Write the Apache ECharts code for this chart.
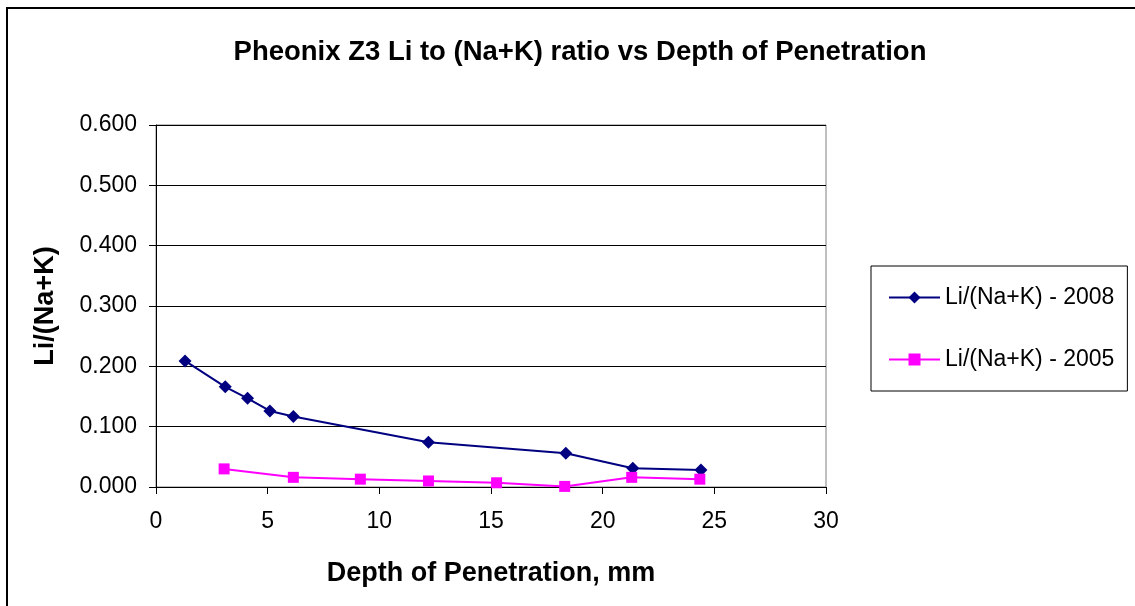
<!DOCTYPE html>
<html>
<head>
<meta charset="utf-8">
<script src="https://cdn.jsdelivr.net/npm/echarts@6/dist/echarts.min.js"></script>
<style>
html,body{margin:0;padding:0;background:#fff;}
#chart{width:1135px;height:606px;}
</style>
</head>
<body>
<div id="chart"></div>
<script>
var titleText = 'Pheonix Z3 Li to (Na+K) ratio vs Depth of Penetration';
var xAxisName = 'Depth of Penetration, mm';
var yAxisName = 'Li/(Na+K)';
var seriesNames = ['Li/(Na+K) - 2008', 'Li/(Na+K) - 2005'];

var depth2008 = [1.3, 3.1, 4.1, 5.1, 6.15, 12.2, 18.35, 21.35, 24.4];
var ratio2008 = [0.209, 0.166, 0.147, 0.126, 0.117, 0.074, 0.056, 0.031, 0.028];

var depth2005 = [3.05, 6.15, 9.15, 12.2, 15.25, 18.3, 21.3, 24.35];
var ratio2005 = [0.030, 0.016, 0.013, 0.010, 0.007, 0.001, 0.016, 0.013];

function pairs(xs, ys) { return xs.map(function (x, i) { return [x, ys[i]]; }); }

var FONT = '"Liberation Sans", Arial, sans-serif';
var chart = echarts.init(document.getElementById('chart'), null, {renderer: 'canvas'});
chart.setOption({
  backgroundColor: '#fff',
  animation: false,
  title: {
    text: titleText,
    left: 575, top: 33, textAlign: 'center',
    textStyle: {fontFamily: FONT, fontWeight: 'bold', fontSize: 27.5, color: '#000'}
  },
  graphic: [{
    type: 'rect', shape: {x: 7, y: 8, width: 1140, height: 610},
    style: {fill: 'none', stroke: '#000', lineWidth: 2}, silent: true
  }],
  legend: {
    orient: 'vertical', left: 871, top: 266,
    padding: [20, 13, 20, 17],
    borderColor: '#000', borderWidth: 1,
    itemWidth: 51, itemHeight: 15, itemGap: 39,
    textStyle: {fontFamily: FONT, fontSize: 23, color: '#000'},
    data: seriesNames
  },
  grid: {
    left: 156, right: 309, top: 125, bottom: 119,
    show: true, borderColor: '#808080', borderWidth: 1
  },
  xAxis: {
    type: 'value', min: 0, max: 30, interval: 5,
    name: xAxisName, nameLocation: 'middle', nameGap: 73,
    nameTextStyle: {fontFamily: FONT, fontWeight: 'bold', fontSize: 27, color: '#000'},
    axisLine: {show: true, onZero: false, lineStyle: {color: '#000', width: 1}},
    axisTick: {show: true, inside: false, length: 7, lineStyle: {color: '#000'}},
    axisLabel: {fontFamily: FONT, fontSize: 23, color: '#000', margin: 23},
    splitLine: {show: false}
  },
  yAxis: {
    type: 'value', min: 0, max: 0.6, interval: 0.1,
    name: yAxisName, nameLocation: 'middle', nameGap: 97,
    nameTextStyle: {fontFamily: FONT, fontWeight: 'bold', fontSize: 27, color: '#000'},
    axisLine: {show: true, lineStyle: {color: '#000', width: 1}},
    axisTick: {show: true, inside: false, length: 7, lineStyle: {color: '#000'}},
    axisLabel: {fontFamily: FONT, fontSize: 23, color: '#000', margin: 19,
      formatter: function (v) { return v.toFixed(3); }},
    splitLine: {show: true, lineStyle: {color: '#000', width: 1}}
  },
  series: [{
    name: seriesNames[0], type: 'line',
    data: pairs(depth2008, ratio2008),
    symbol: 'diamond', symbolSize: 13,
    lineStyle: {color: '#000080', width: 2},
    itemStyle: {color: '#000080'}
  }, {
    name: seriesNames[1], type: 'line',
    data: pairs(depth2005, ratio2005),
    symbol: 'rect', symbolSize: 11,
    lineStyle: {color: '#FF00FF', width: 2},
    itemStyle: {color: '#FF00FF'}
  }]
});
</script>
</body>
</html>
